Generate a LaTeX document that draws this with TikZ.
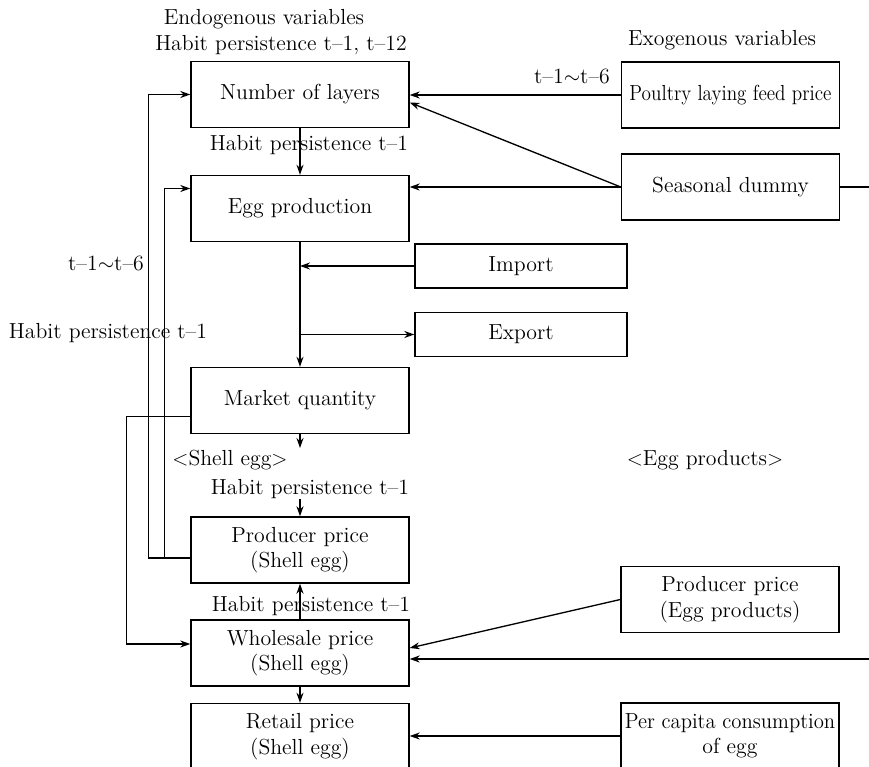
\documentclass[tikz,border=0pt]{standalone}
\usepackage{graphicx}
\usepackage{tikz}
\usetikzlibrary{arrows.meta,positioning,calc}

\begin{document}
\begin{tikzpicture}[
  x=0.02cm, y=-0.02cm,
  font=\fontsize{12.4}{14.5}\selectfont,
  box/.style={draw,line width=0.8pt,minimum width=4.36cm,minimum height=1.32cm,
    align=center,inner sep=1pt},
  smallbox/.style={box,minimum width=4.24cm,minimum height=0.88cm},
  lbl/.style={inner sep=0pt},
  arrow/.style={-{Stealth[length=2mm,width=1.4mm]},line width=0.75pt},
]
  \useasboundingbox (0,0) rectangle (869,767);
  % endogenous column
  \node[box] (layers) at (300,94.5) {Number of layers};
  \node[box] (egg) at (300,208.5) {Egg production};
  \node[box] (market) at (300,400.5) {Market quantity};
  \node[box] (prodshell) at (300,550) {Producer price\\(Shell egg)};
  \node[box] (wholesale) at (300,653) {Wholesale price\\(Shell egg)};
  \node[box] (retail) at (300,736.5) {Retail price\\(Shell egg)};
  % exogenous column
  \node[box] (feed) at (730.5,95) {\scalebox{0.88}[1]{Poultry laying feed price}};
  \node[box] (season) at (730.5,187) {Seasonal dummy};
  \node[smallbox] (imp) at (521,266) {Import};
  \node[smallbox] (exp) at (521,334.5) {Export};
  \node[box] (prodegg) at (730,599.5) {Producer price\\(Egg products)};
  \node[box] (percap) at (730,736) {\scalebox{0.95}[1]{Per capita consumption}\\of egg};
  % labels
  \node[lbl] (endo) at (264,19) {Endogenous variables};
  \node[lbl] (hplayers) at (281,45) {Habit persistence t--1, t--12};
  \node[lbl] (exo) at (722,40) {Exogenous variables};
  \node[lbl] (lagfeed) at (572,76) {t--1$\sim$t--6};
  \node[lbl] (hpegg) at (309,145) {Habit persistence t--1};
  \node[lbl] (lagleft) at (106,263) {t--1$\sim$t--6};
  \node[lbl] (hpleft) at (108,333) {Habit persistence t--1};
  \node[lbl] (shell) at (230,460) {$<$Shell egg$>$};
  \node[lbl] (eggprod) at (705,460) {$<$Egg products$>$};
  \node[lbl] (hpprod) at (310,489) {Habit persistence t--1};
  \node[lbl] (hpwhole) at (311,606) {Habit persistence t--1};
  \coordinate (mqend) at (300,448);
  \coordinate (pw) at ($(prodshell.west)+(0,8)$);
  \coordinate (eggin) at ($(egg.west)+(0,-20)$);
  % connectors
  \draw[arrow] (feed.west) -- (feed.west -| layers.east);
  \draw[arrow] (season.west) -- ($(layers.east)+(0,8)$);
  \draw[arrow] (season.west) -- (season.west -| egg.east);
  \draw[arrow] (season.east) -- ++(32,0) |- ($(wholesale.east)+(0,6)$);
  \draw[arrow] (layers.south) -- (egg.north);
  \draw[arrow] (egg.south) -- (market.north);
  \draw[arrow] (imp.west) -- (imp.west -| egg.south);
  \draw[arrow] (exp.west -| egg.south) -- (exp.west);
  \draw[arrow] (market.south) -- (mqend);
  \draw[arrow] (hpprod.south -| prodshell.north) -- (prodshell.north);
  \draw[arrow] (wholesale.north) -- (prodshell.south);
  \draw[arrow] (wholesale.south) -- (retail.north);
  \draw[arrow] (pw) -- ++(-26,0) |- (eggin);
  \draw[arrow] (pw) -- ++(-42,0) |- (layers.west);
  \draw[arrow] ($(market.west)+(0,16)$) -- ++(-64,0) |- ($(wholesale.west)+(0,-9)$);
  \draw[arrow] (prodegg.west) -- ($(wholesale.east)+(0,-5)$);
  \draw[arrow] (percap.west) -- (percap.west -| retail.east);
\end{tikzpicture}
\end{document}
